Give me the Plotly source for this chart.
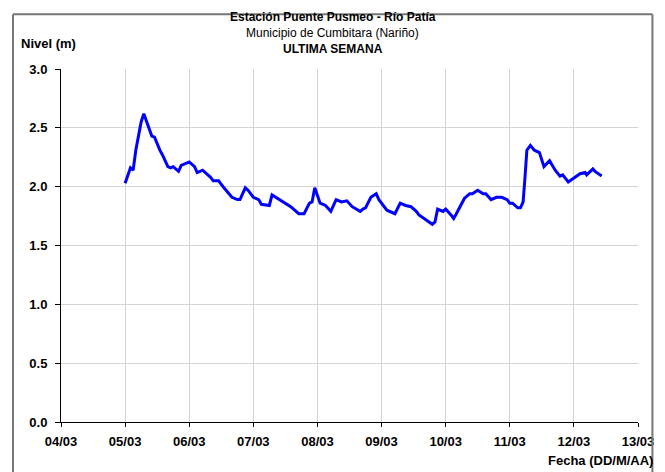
"""Nivel del río - Estación Puente Pusmeo, última semana."""
from datetime import datetime, timedelta

import plotly.graph_objects as go

START = datetime(2013, 3, 5)

# horas desde 05/03 00:00 y nivel leído (m)
hours = [
    0, 2, 3, 4, 6, 7, 10, 11, 13, 14, 16, 17, 18, 20, 21, 24, 26, 27, 29, 31,
    32, 33, 35, 37, 40, 42, 43, 45, 46, 48, 50, 51, 54, 55, 58, 62, 65, 67, 69,
    70, 71, 73, 75, 77, 79, 81, 83, 85, 88, 89, 90, 92, 94, 95, 98, 100, 101,
    103, 105, 107, 109, 110, 113, 115, 116, 117, 119, 120, 122, 123, 124, 125,
    127, 129, 130, 132, 134, 135, 137, 139, 141, 143, 144, 145, 147, 148, 149,
    149.7, 150.4, 151.7, 153.2, 155.1, 156.8, 158.9, 161.0, 162.8, 163.8,
    165.9, 168.5, 170.3, 172.2, 172.8, 175.1, 175.9, 178.4,
]
levels = [
    2.03, 2.16, 2.14, 2.31, 2.55, 2.62, 2.43, 2.42, 2.31, 2.27, 2.17, 2.16,
    2.17, 2.13, 2.18, 2.21, 2.17, 2.12, 2.14, 2.10, 2.08, 2.05, 2.05, 1.99,
    1.91, 1.89, 1.89, 1.99, 1.97, 1.91, 1.89, 1.85, 1.84, 1.93, 1.89, 1.83,
    1.77, 1.77, 1.86, 1.87, 1.99, 1.86, 1.84, 1.79, 1.89, 1.87, 1.88, 1.83,
    1.79, 1.81, 1.82, 1.91, 1.94, 1.89, 1.80, 1.78, 1.77, 1.86, 1.84, 1.83,
    1.79, 1.76, 1.71, 1.68, 1.70, 1.81, 1.79, 1.81, 1.76, 1.73, 1.77, 1.81,
    1.90, 1.94, 1.94, 1.97, 1.94, 1.94, 1.89, 1.91, 1.91, 1.89, 1.86, 1.86,
    1.82, 1.82, 1.87, 2.08, 2.31, 2.35, 2.31, 2.29, 2.17, 2.22, 2.14, 2.09,
    2.10, 2.04, 2.08, 2.11, 2.12, 2.10, 2.15, 2.13, 2.09,
]

tick_days = [datetime(2013, 3, d) for d in range(4, 14)]
tick_labels = [d.strftime("%d/%m") for d in tick_days]

times = [START + timedelta(hours=h) for h in hours]

FONT = "Liberation Sans, Arial, sans-serif"

fig = go.Figure()
fig.add_scatter(x=times, y=levels, mode="lines",
                line=dict(color="#0000ff", width=3), showlegend=False)

fig.update_xaxes(
    range=[tick_days[0], tick_days[-1]],
    tickvals=tick_days, ticktext=tick_labels,
    showgrid=True, gridcolor="#d4d4d4", gridwidth=1,
    showline=True, linecolor="#000000", linewidth=1,
    ticks="outside", ticklen=4, tickcolor="#000000",
    ticklabelstandoff=3,
    tickfont=dict(family=FONT, size=13, color="#000000", weight="bold"),
    zeroline=False,
)
fig.update_yaxes(
    range=[0, 3], dtick=0.5, tickformat=".1f",
    showgrid=True, gridcolor="#d4d4d4", gridwidth=1,
    showline=True, linecolor="#000000", linewidth=1,
    ticks="outside", ticklen=5, tickcolor="#000000",
    ticklabelstandoff=5,
    tickfont=dict(family=FONT, size=13, color="#000000", weight="bold"),
    zeroline=False,
)

annotations = [
    dict(text="<b>Estación Puente Pusmeo - Río Patía</b>", x=0.471, y=1.147, size=12),
    dict(text="Municipio de Cumbitara (Nariño)", x=0.471, y=1.102, size=12),
    dict(text="<b>ULTIMA SEMANA</b>", x=0.471, y=1.057, size=12),
]
for a in annotations:
    fig.add_annotation(text=a["text"], x=a["x"], y=a["y"], xref="paper", yref="paper",
                       showarrow=False, xanchor="center", yanchor="middle",
                       font=dict(family=FONT, size=a["size"], color="#000000"))
fig.add_annotation(text="<b>Nivel (m)</b>", x=-0.072, y=1.071, xref="paper", yref="paper",
                   showarrow=False, xanchor="left", yanchor="middle",
                   font=dict(family=FONT, size=13, color="#000000"))
fig.add_annotation(text="<b>Fecha (DD/M/AA)</b>", x=1.0295, y=-0.108, xref="paper", yref="paper",
                   showarrow=False, xanchor="right", yanchor="middle",
                   font=dict(family=FONT, size=13, color="#000000"))

# marco exterior del gráfico (tres lados visibles)
x_left, x_right, y_top, y_bottom = -0.0832, 1.025, 1.155, -0.2
border = dict(color="#777777", width=2)
for x0, y0, x1, y1 in [
    (x_left, y_bottom, x_left, y_top),
    (x_left, y_top, x_right, y_top),
    (x_right, y_top, x_right, y_bottom),
]:
    fig.add_shape(type="line", xref="paper", yref="paper",
                  x0=x0, y0=y0, x1=x1, y1=y1, line=border, layer="above")

# la página añade 8 px de margen al cuerpo: la figura se ajusta para compensar
fig.update_layout(
    width=657, height=464,
    margin=dict(l=53, r=27, t=61, b=50),
    paper_bgcolor="#ffffff", plot_bgcolor="#ffffff",
    font=dict(family=FONT, color="#000000"),
)

fig.write_html("out.html")
